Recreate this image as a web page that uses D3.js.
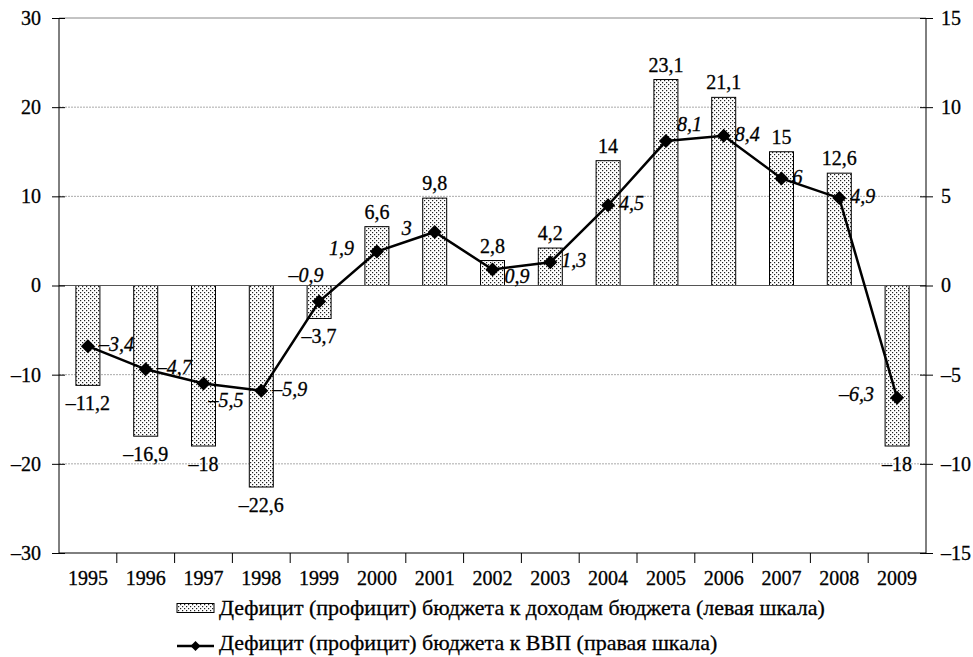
<!DOCTYPE html>
<html><head><meta charset="utf-8">
<script src="https://cdn.jsdelivr.net/npm/d3@7"></script>
<style>body{margin:0;background:#fff}svg{display:block}text{font-family:"Liberation Serif","Times New Roman",serif;fill:#000;stroke:#000;stroke-width:0.3px}</style>
</head><body><svg id="c" width="973" height="657"></svg>
<script>
const years = ["1995","1996","1997","1998","1999","2000","2001","2002","2003","2004","2005","2006","2007","2008","2009"];
const barValues = [-11.2,-16.9,-18,-22.6,-3.7,6.6,9.8,2.8,4.2,14,23.1,21.1,15,12.6,-18];
const lineValues = [-3.4,-4.7,-5.5,-5.9,-0.9,1.9,3,0.9,1.3,4.5,8.1,8.4,6,4.9,-6.3];
const leftTicks = [-30,-20,-10,0,10,20,30];
const rightTicks = [-15,-10,-5,0,5,10,15];
const lineLabelPlace = ["r","r","b","r","a","l","l","rb","r","r","ra","r","r","r","l"];
const legendLabels = ["Дефицит (профицит) бюджета к доходам бюджета (левая шкала)","Дефицит (профицит) бюджета к ВВП (правая шкала)"];

const svg = d3.select("#c");
const L = 59, R = 926, T = 18, B = 553;
const x = d3.scaleBand().domain(years).range([L, R]);
const yL = d3.scaleLinear().domain([-30, 30]).range([B, T]);
const yR = d3.scaleLinear().domain([-15, 15]).range([B, T]);
const fmt = v => String(v).replace("-", "–").replace(".", ",");
const SERIF = '"Liberation Serif","Times New Roman",serif';

// pattern
const defs = svg.append("defs");
const pat = defs.append("pattern").attr("id","dots").attr("patternUnits","userSpaceOnUse").attr("width",4).attr("height",4);
pat.append("rect").attr("width",4).attr("height",4).attr("fill","#fff");
pat.append("rect").attr("x",0).attr("y",0).attr("width",1.2).attr("height",1.2).attr("fill","#222");
pat.append("rect").attr("x",2).attr("y",2).attr("width",1.2).attr("height",1.2).attr("fill","#222");

// gridlines
svg.append("g").selectAll("line").data(leftTicks.filter(d => d !== -30 && d !== 0)).join("line")
  .attr("x1", L).attr("x2", R).attr("y1", d => yL(d)).attr("y2", d => yL(d))
  .attr("stroke", d => d === 30 ? "#888" : "#aaa").attr("stroke-width", 1)
  .attr("stroke-dasharray", d => d === 30 ? null : "2,1");

// bars
const bw = 24;
svg.append("g").selectAll("rect").data(barValues).join("rect")
  .attr("x", (d,i) => x(years[i]) + x.bandwidth()/2 - bw/2)
  .attr("y", d => yL(Math.max(0,d)))
  .attr("width", bw)
  .attr("height", d => Math.abs(yL(d) - yL(0)))
  .attr("fill", "url(#dots)").attr("stroke", "#000").attr("stroke-width", 1);

// zero line
svg.append("line").attr("x1", L).attr("x2", R).attr("y1", yL(0)).attr("y2", yL(0)).attr("stroke", "#555").attr("stroke-width", 1);

// axes
const axL = svg.append("g").attr("transform", `translate(${L},0)`)
  .call(d3.axisLeft(yL).tickValues(leftTicks).tickFormat(fmt).tickSize(7).tickPadding(11));
const axR = svg.append("g").attr("transform", `translate(${R},0)`)
  .call(d3.axisRight(yR).tickValues(rightTicks).tickFormat(fmt).tickSize(7).tickPadding(8));
[axL, axR].forEach(a => {
  a.attr("font-family", SERIF).attr("font-size", 20);
  a.select(".domain").remove();
  a.selectAll("text").style("font-size","20px").style("font-family",SERIF);
  a.selectAll("line").attr("stroke","#000");
});
axL.selectAll(".tick line").attr("x1", 6);
axR.selectAll(".tick line").attr("x1", -6);
svg.append("line").attr("x1",L).attr("x2",L).attr("y1",T).attr("y2",B).attr("stroke","#000");
svg.append("line").attr("x1",R).attr("x2",R).attr("y1",T).attr("y2",B).attr("stroke","#000");
svg.append("line").attr("x1",L).attr("x2",R).attr("y1",B).attr("y2",B).attr("stroke","#000");

// x ticks at band boundaries
svg.append("g").selectAll("line").data(years.slice(1)).join("line")
  .attr("x1", d => x(d)).attr("x2", d => x(d)).attr("y1", B).attr("y2", B + 10).attr("stroke", "#000");
svg.append("g").selectAll("text").data(years).join("text")
  .attr("x", d => x(d) + x.bandwidth()/2).attr("y", 585).attr("text-anchor","middle")
  .style("font-size","20px").text(d => d);

// bar labels
svg.append("g").selectAll("text").data(barValues).join("text")
  .attr("x", (d,i) => x(years[i]) + x.bandwidth()/2)
  .attr("y", d => d >= 0 ? yL(d) - 8 : yL(d) + 25)
  .attr("text-anchor","middle").style("font-size","20px").text(fmt);

// line
const cx = i => x(years[i]) + x.bandwidth()/2;
svg.append("path").datum(lineValues)
  .attr("d", d3.line().x((d,i) => cx(i)).y(d => yR(d)))
  .attr("fill","none").attr("stroke","#000").attr("stroke-width",2.5);
const diamond = "M0,-7L7,0L0,7L-7,0Z";
svg.append("g").selectAll("path").data(lineValues).join("path")
  .attr("d", diamond).attr("transform", (d,i) => `translate(${cx(i)},${yR(d)})`).attr("fill","#000");

// line labels
const place = {r:[11,5,"start"], rb:[12,14,"start"], b:[5,23,"start"], ra:[11,-10,"start"], l:[-23,3,"end"], a:[-13,-20,"middle"]};
svg.append("g").selectAll("text").data(lineValues).join("text")
  .attr("x", (d,i) => cx(i) + place[lineLabelPlace[i]][0])
  .attr("y", (d,i) => yR(d) + place[lineLabelPlace[i]][1])
  .attr("text-anchor", (d,i) => place[lineLabelPlace[i]][2])
  .style("font-size","20px").style("font-style","italic").text(fmt);

// legend
const lg = svg.append("g");
lg.append("rect").attr("x",177).attr("y",603.5).attr("width",37).attr("height",9).attr("fill","url(#dots)").attr("stroke","#000");
lg.append("text").attr("x",219).attr("y",615).style("font-size","22px").text(legendLabels[0]);
lg.append("line").attr("x1",177).attr("x2",214).attr("y1",646).attr("y2",646).attr("stroke","#000").attr("stroke-width",2.5);
lg.append("path").attr("d","M0,-5L5,0L0,5L-5,0Z").attr("transform","translate(195.5,646)").attr("fill","#000");
lg.append("text").attr("x",219).attr("y",650).style("font-size","22px").text(legendLabels[1]);
</script></body></html>
